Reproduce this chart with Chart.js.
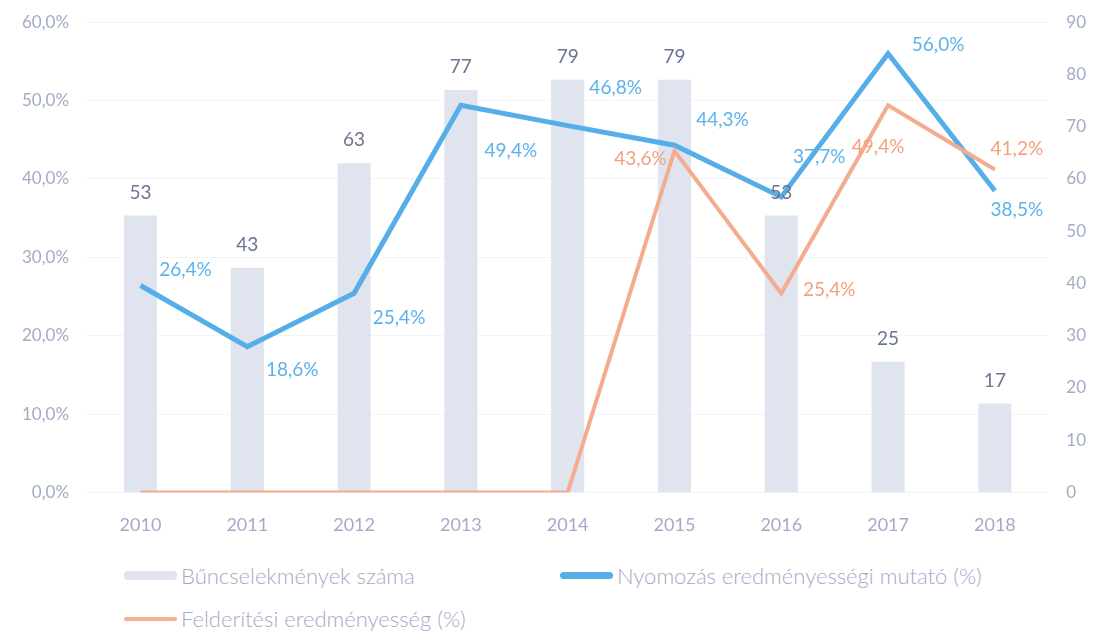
<!DOCTYPE html>
<html>
<head>
<meta charset="utf-8">
<script src="https://cdn.jsdelivr.net/npm/chart.js@4/dist/chart.umd.min.js"></script>
<style>
  body { margin: 0; background: #fff; font-family: Lato, "Open Sans", sans-serif; overflow: hidden; }
  #wrap { position: relative; width: 1096px; height: 631px; overflow: hidden; }
  #box { position: absolute; left: 0; top: -6px; width: 1096px; height: 560px; }
  .leg { position: absolute; display: flex; align-items: center; font-size: 22px; color: #a3abc6; font-weight: 300; }
  .sw { display: inline-block; width: 53px; margin-right: 4px; border-radius: 4px; }
</style>
</head>
<body>
<div id="wrap">
  <div id="box"><canvas id="ch"></canvas></div>
  <div class="leg" style="left:124px; top:562px;"><span class="sw" style="height:9px; background:#dfe4ee;"></span>Bűncselekmények száma</div>
  <div class="leg" style="left:560px; top:562px;"><span class="sw" style="height:7px; background:#55aee8;"></span>Nyomozás eredményességi mutató (%)</div>
  <div class="leg" style="left:124px; top:605px;"><span class="sw" style="height:4px; background:#f3b095;"></span>Felderítési eredményesség (%)</div>
</div>
<script>
const years = ['2010', '2011', '2012', '2013', '2014', '2015', '2016', '2017', '2018'];
const crimes = [53, 43, 63, 77, 79, 79, 53, 25, 17];
const investigation = [26.4, 18.6, 25.4, 49.4, 46.8, 44.3, 37.7, 56.0, 38.5];
const detection = [0, 0, 0, 0, 0, 43.6, 25.4, 49.4, 41.2];

// label offsets (px) relative to the point, null = no label
const blueOffsets = [[45, -16], [45, 23], [45, 25], [50, 46], [48, -38], [48, -25], [38, -40], [50, -9], [22, 19]];
const orangeOffsets = [null, null, null, null, null, [-34, 8], [48, -3], [-10, 42], [22, -21]];

function pct(v) { return v.toFixed(1).replace('.', ',') + '%'; }

const labelPlugin = {
  id: 'pointLabels',
  afterDatasetsDraw(chart) {
    const ctx = chart.ctx;
    ctx.save();
    ctx.textAlign = 'center';
    ctx.textBaseline = 'middle';
    chart.data.datasets.forEach((ds, di) => {
      const meta = chart.getDatasetMeta(di);
      meta.data.forEach((el, i) => {
        const v = ds.data[i];
        if (ds.type === 'bar') {
          ctx.font = '19px Lato';
          ctx.fillStyle = '#6c7494';
          ctx.fillText(String(v), el.x, el.y - 23);
        } else {
          const off = ds.labelOffsets[i];
          if (!off) return;
          ctx.font = '19px Lato';
          ctx.fillStyle = ds.labelColor;
          ctx.fillText(pct(v), el.x + off[0], el.y + off[1]);
        }
      });
    });
    ctx.restore();
  }
};

new Chart(document.getElementById('ch'), {
  data: {
    labels: years,
    datasets: [
      {
        type: 'bar',
        label: 'Bűncselekmények száma',
        data: crimes,
        yAxisID: 'y1',
        backgroundColor: '#dfe4ee',
        barPercentage: 0.31,
        categoryPercentage: 1,
        order: 3
      },
      {
        type: 'line',
        label: 'Nyomozás eredményességi mutató (%)',
        data: investigation,
        yAxisID: 'y',
        borderColor: '#55aee8',
        borderWidth: 5,
        pointRadius: 0,
        tension: 0,
        labelColor: '#5cb2ea',
        labelOffsets: blueOffsets,
        order: 2
      },
      {
        type: 'line',
        label: 'Felderítési eredményesség (%)',
        data: detection,
        yAxisID: 'y',
        borderColor: '#f3ac8e',
        borderWidth: 4,
        pointRadius: 0,
        tension: 0,
        labelColor: '#f2a27c',
        labelOffsets: orangeOffsets,
        order: 1
      }
    ]
  },
  options: {
    responsive: true,
    maintainAspectRatio: false,
    animation: { duration: 0 },
    events: [],
    layout: { padding: { top: 0, left: 4, right: 0, bottom: 4 } },
    plugins: { legend: { display: false }, tooltip: { enabled: false } },
    scales: {
      x: {
        grid: { display: false },
        border: { display: false },
        ticks: { color: '#a3abc6', font: { family: 'Lato', size: 18 }, padding: 14 }
      },
      y: {
        position: 'left',
        min: 0,
        max: 60,
        grid: { color: '#f3f4f8', drawTicks: false },
        border: { display: false },
        ticks: {
          stepSize: 10,
          color: '#a3abc6',
          font: { family: 'Lato', size: 17 },
          padding: 18,
          callback: v => pct(v)
        }
      },
      y1: {
        position: 'right',
        min: 0,
        max: 90,
        grid: { display: false },
        border: { display: false },
        ticks: { stepSize: 10, color: '#a3abc6', font: { family: 'Lato', size: 17 }, padding: 10 }
      }
    }
  },
  plugins: [labelPlugin]
});
</script>
</body>
</html>
